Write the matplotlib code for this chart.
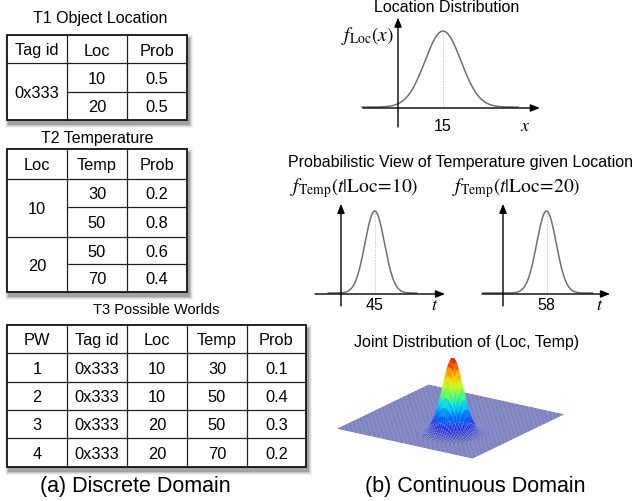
import numpy as np
import matplotlib.pyplot as plt
from matplotlib.patches import Rectangle
from matplotlib.colors import LinearSegmentedColormap

plt.rcParams['font.family'] = ['Liberation Sans', 'DejaVu Sans']
plt.rcParams['mathtext.fontset'] = 'stix'

# T1 Object Location
t1_header = ["Tag id", "Loc", "Prob"]
t1_tag = ["0x333", "0x333"]
t1_loc = [10, 20]
t1_prob = [0.5, 0.5]

# T2 Temperature
t2_header = ["Loc", "Temp", "Prob"]
t2_loc = [10, 10, 20, 20]
t2_temp = [30, 50, 50, 70]
t2_prob = [0.2, 0.8, 0.6, 0.4]

# T3 Possible Worlds
t3_header = ["PW", "Tag id", "Loc", "Temp", "Prob"]
t3_pw = [1, 2, 3, 4]
t3_tag = ["0x333", "0x333", "0x333", "0x333"]
t3_loc = [10, 10, 20, 20]
t3_temp = [30, 50, 50, 70]
t3_prob = [0.1, 0.4, 0.3, 0.2]

# continuous side
loc_mean, loc_sd = 15, 6
temp_given = [10, 20]
temp_means = [45, 58]
temp_sd = 13
joint_mean = (18.5, 41)      # (Loc, Temp)
joint_sd = (1.9, 3.8)
loc_range = (0, 30)
temp_range = (20, 80)

W, H = 640, 502
fig = plt.figure(figsize=(W / 100, H / 100), dpi=100)
bg = fig.add_axes([0, 0, 1, 1])
bg.set_xlim(0, W)
bg.set_ylim(H, 0)
bg.axis('off')


def px_axes(x0, y0, x1, y1, **kw):
    return fig.add_axes([x0 / W, 1 - y1 / H, (x1 - x0) / W, (y1 - y0) / H], **kw)


def draw_table(xs, ys, header, rows, merge_first=False, fs=11.8):
    x0, x1, y0, y1 = xs[0], xs[-1], ys[0], ys[-1]
    # soft drop shadow
    for grow, a in [(4, 0.05), (3, 0.08), (2, 0.12), (1, 0.17)]:
        bg.add_patch(Rectangle((x0 + 2 - grow, y0 + 4 - grow), x1 - x0 + 2 * grow, y1 - y0 + 2 * grow,
                               color='k', alpha=a, lw=0, zorder=1))
    bg.add_patch(Rectangle((x0, y0), x1 - x0, y1 - y0, facecolor='white', edgecolor='#111',
                           lw=1.3, zorder=2))
    for x in xs[1:-1]:
        bg.plot([x, x], [y0, y1], color='#222', lw=0.9, zorder=3)
    bg.plot([x0, x1], [ys[1], ys[1]], color='#222', lw=0.9, zorder=3)
    for j, h in enumerate(header):
        bg.text((xs[j] + xs[j + 1]) / 2, (ys[0] + ys[1]) / 2 + 1, h, ha='center', va='center',
                fontsize=fs, zorder=4)
    n = len(rows)
    for i in range(1, n):
        start = xs[1] if merge_first and rows[i][0] == rows[i - 1][0] else x0
        bg.plot([start, x1], [ys[i + 1], ys[i + 1]], color='#222', lw=0.9, zorder=3)
    for i, row in enumerate(rows):
        yc = (ys[i + 1] + ys[i + 2]) / 2 + 1
        for j, v in enumerate(row):
            if j == 0 and merge_first:
                continue
            bg.text((xs[j] + xs[j + 1]) / 2, yc, str(v), ha='center', va='center',
                    fontsize=fs, zorder=4)
    if merge_first:
        i = 0
        while i < n:
            k = i
            while k + 1 < n and rows[k + 1][0] == rows[i][0]:
                k += 1
            bg.text((xs[0] + xs[1]) / 2, (ys[i + 1] + ys[k + 2]) / 2 + 1, str(rows[i][0]),
                    ha='center', va='center', fontsize=fs, zorder=4)
            i = k + 1


bg.text(100, 18, "T1 Object Location", ha='center', va='center', fontsize=11.5)
draw_table([7, 67, 127, 187], [36, 64, 93, 121], t1_header,
           list(zip(t1_tag, t1_loc, t1_prob)), merge_first=True)

bg.text(97, 139, "T2 Temperature", ha='center', va='center', fontsize=11.5)
draw_table([7, 67, 127, 187], [150, 180, 208, 238, 265, 293], t2_header,
           list(zip(t2_loc, t2_temp, t2_prob)), merge_first=True)

bg.text(156, 310, "T3 Possible Worlds", ha='center', va='center', fontsize=10.5)
draw_table([7, 67, 127, 187, 247, 306], [326, 354, 383, 411, 439, 468], t3_header,
           list(zip(t3_pw, t3_tag, t3_loc, t3_temp, t3_prob)))

bg.text(135, 487, "(a) Discrete Domain", ha='center', va='center', fontsize=15.5)
bg.text(475, 487, "(b) Continuous Domain", ha='center', va='center', fontsize=15.5)


def density_axes(box, origin, xscale, yscale):
    x0, y0, x1, y1 = box
    ox, oy = origin
    ax = px_axes(x0, y0, x1, y1)
    ax.set_xlim((x0 - ox) / xscale, (x1 - ox) / xscale)
    ax.set_ylim((oy - y1) / yscale, (oy - y0) / yscale)
    ax.axis('off')
    return ax


def draw_density(ax, mean, sd, curve_lo, curve_hi, h_lo, h_hi, v_lo, v_hi, tick, var):
    arr = dict(arrowstyle='-|>,head_length=0.55,head_width=0.22', color='k', lw=1.0,
               mutation_scale=10, shrinkA=0, shrinkB=0)
    ax.annotate('', xy=(h_hi, 0), xytext=(h_lo, 0), arrowprops=arr, annotation_clip=False)
    ax.annotate('', xy=(0, v_hi), xytext=(0, v_lo), arrowprops=arr, annotation_clip=False)
    xx = np.linspace(curve_lo, curve_hi, 400)
    yy = np.exp(-0.5 * ((xx - mean) / sd) ** 2)
    ax.plot(xx, yy + 0.012, color='#707070', lw=1.1)
    ax.plot([mean, mean], [0, 1], color='#bbb', lw=0.7, ls=':')
    ax.text(mean, v_lo + 0.02, str(tick), ha='center', va='center', fontsize=11.5)
    ax.text(h_hi - (h_hi - h_lo) * 0.08, v_lo + 0.02, var, ha='center', va='center',
            fontsize=13)


# Location distribution
bg.text(447, 7, "Location Distribution", ha='center', va='center', fontsize=11.5)
ax_loc = density_axes((355, 12, 548, 134), (398, 109), 3.0, 76.0)
draw_density(ax_loc, loc_mean, loc_sd, -12, 40, -11.7, 47.3, -0.25, 1.19, loc_mean, '$x$')
bg.text(368, 36, r'$f_{\mathrm{Loc}}(x)$', ha='center', va='center', fontsize=14)

# Temperature given location
bg.text(461, 163, "Probabilistic View of Temperature given Location", ha='center', va='center',
        fontsize=11.5)
for k, (org, cl, ch, hl, hh) in enumerate([((341, 295), -17, 101, -34.7, 138.7),
                                            ((503, 295), -27, 119, -28.0, 142.7)]):
    ax_t = density_axes((org[0] - 40, 198, org[0] + 115, 312), org, 0.75, 82.0)
    draw_density(ax_t, temp_means[k], temp_sd, cl, ch, hl, hh, -0.145, 1.1,
                 temp_means[k], '$t$')
    bg.text(org[0] + 13, 188, r'$f_{\mathrm{Temp}}(t|\mathrm{Loc}\!=\!%d)$' % temp_given[k],
            ha='center', va='center', fontsize=14)

# Joint distribution
bg.text(467, 343, "Joint Distribution of (Loc, Temp)", ha='center', va='center', fontsize=11.5)
cmap = LinearSegmentedColormap.from_list(
    'pj', ['#5a60b0', '#2030e0', '#0070ff', '#00d0ff', '#40ff80', '#c0ff20', '#ffd000',
           '#ff6000', '#d01010'])
ax3 = px_axes(137, 255, 757, 523, projection='3d')
ax3.patch.set_alpha(0)
L, T = np.meshgrid(np.linspace(*loc_range, 70), np.linspace(*temp_range, 70))
Z = np.exp(-0.5 * (((L - joint_mean[0]) / joint_sd[0]) ** 2 + ((T - joint_mean[1]) / joint_sd[1]) ** 2))
surf = ax3.plot_surface(L, T, Z, cmap=cmap, vmin=0, vmax=1, rstride=1, cstride=1,
                        edgecolor=(1, 1, 1, 0.07), linewidth=0.15, antialiased=True, shade=False)
surf.set_clip_on(False)
ax3.set_proj_type('ortho')
ax3.view_init(elev=19, azim=-56)
ax3.set_box_aspect((1, 1, 0.42))
ax3.set_zlim(0, 1)
ax3.axis('off')

fig.savefig('out.png', dpi=100)
